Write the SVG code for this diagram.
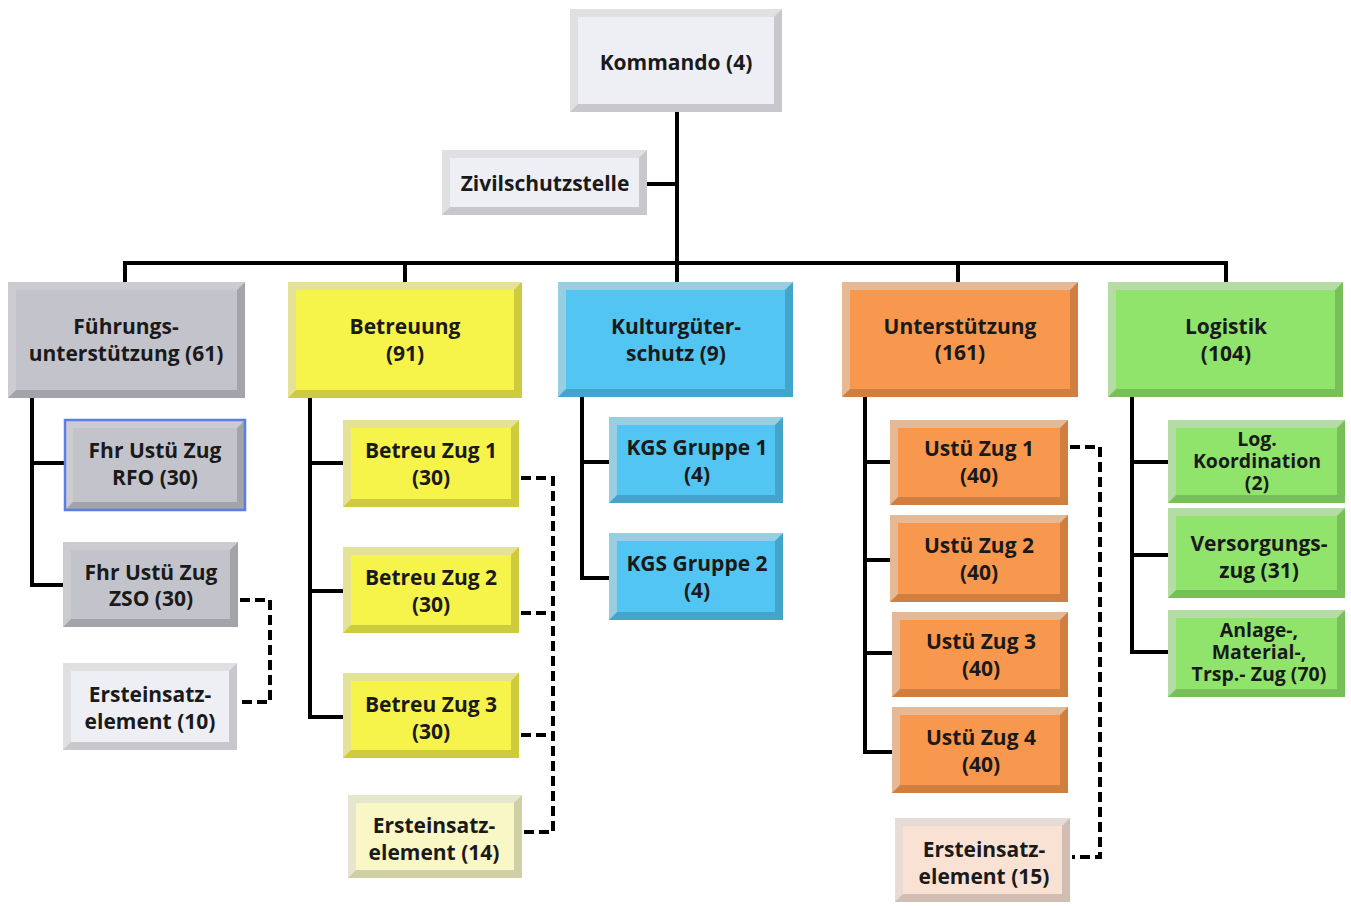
<svg xmlns="http://www.w3.org/2000/svg" width="1351" height="906" viewBox="0 0 1351 906">
<style>
text{font-family:"Open Sans","Liberation Sans",sans-serif;font-weight:bold;font-size:21px;fill:#1a1a1a;text-anchor:middle}
.sh{fill:#000;opacity:.16}
.hl{fill:#fff;opacity:.45}
.lav .f{fill:#eeeef5}
.gray .f{fill:#c3c3cb}
.yel .f{fill:#f6f34a}
.lyel .f{fill:#f9f7c6}
.cyan .f{fill:#52c5f2}
.ora .f{fill:#f8984e}
.peach .f{fill:#f9e2d4}
.grn .f{fill:#90e46c}
.blue-b{fill:none;stroke:#5a7ee6;stroke-width:2.5}
.solid{fill:none;stroke:#000;stroke-width:4}
.dash{fill:none;stroke:#000;stroke-width:4;stroke-dasharray:10 5}
.sm{font-size:19.5px}
</style>
<g id="connectors">
<path class="solid" d="M677,112 V282"/>
<path class="solid" d="M647,184 H677"/>
<path class="solid" d="M125,282 V263 H1226 V282"/>
<path class="solid" d="M405,263 V282"/>
<path class="solid" d="M958,263 V282"/>
<path class="solid" d="M32,398 V585 H63 M32,463 H65"/>
<path class="solid" d="M310,398 V717 H343 M310,463 H343 M310,591 H343"/>
<path class="solid" d="M582,397 V578 H609 M582,462 H609"/>
<path class="solid" d="M865,397 V752 H892 M865,462 H890 M865,560 H890 M865,653 H892"/>
<path class="solid" d="M1132,397 V652 H1168 M1132,462 H1168 M1132,555 H1168"/>
<path class="dash" d="M240,600 H270 V702 H239"/>
<path class="dash" d="M521,478 H553 V832 H524 M521,613 H553 M521,735 H553"/>
<path class="dash" d="M1070,447 H1100 V857 H1072"/>
</g>
<g id="n-kommando" class="lav">
<rect class="f" x="570" y="9" width="212" height="103"/><rect class="sh" x="570" y="9" width="212" height="103"/>
<path class="hl" d="M570,9 h212 l-8,8 h-196 v87 l-8,8 z"/><rect class="f" x="578" y="17" width="196" height="87"/>
<text x="676" y="70">Kommando (4)</text>
</g>
<g id="n-zivil" class="lav">
<rect class="f" x="442" y="150" width="205" height="65"/><rect class="sh" x="442" y="150" width="205" height="65"/>
<path class="hl" d="M442,150 h205 l-8,8 h-189 v49 l-8,8 z"/><rect class="f" x="450" y="158" width="189" height="49"/>
<text x="545" y="191">Zivilschutzstelle</text>
</g>
<g id="n-fuehrung" class="gray">
<rect class="f" x="8" y="282" width="237" height="116"/><rect class="sh" x="8" y="282" width="237" height="116"/>
<path class="hl" d="M8,282 h237 l-8,8 h-221 v100 l-8,8 z"/><rect class="f" x="16" y="290" width="221" height="100"/>
<text x="126" y="334">Führungs-</text><text x="126" y="361">unterstützung (61)</text>
</g>
<g id="n-betreuung" class="yel">
<rect class="f" x="288" y="282" width="234" height="116"/><rect class="sh" x="288" y="282" width="234" height="116"/>
<path class="hl" d="M288,282 h234 l-8,8 h-218 v100 l-8,8 z"/><rect class="f" x="296" y="290" width="218" height="100"/>
<text x="405" y="334">Betreuung</text><text x="405" y="361">(91)</text>
</g>
<g id="n-kgs" class="cyan">
<rect class="f" x="558" y="282" width="235" height="115"/><rect class="sh" x="558" y="282" width="235" height="115"/>
<path class="hl" d="M558,282 h235 l-8,8 h-219 v99 l-8,8 z"/><rect class="f" x="566" y="290" width="219" height="99"/>
<text x="676" y="334">Kulturgüter-</text><text x="676" y="361">schutz (9)</text>
</g>
<g id="n-unterstuetzung" class="ora">
<rect class="f" x="842" y="282" width="236" height="115"/><rect class="sh" x="842" y="282" width="236" height="115"/>
<path class="hl" d="M842,282 h236 l-8,8 h-220 v99 l-8,8 z"/><rect class="f" x="850" y="290" width="220" height="99"/>
<text x="960" y="334">Unterstützung</text><text x="960" y="360">(161)</text>
</g>
<g id="n-logistik" class="grn">
<rect class="f" x="1108" y="282" width="235" height="115"/><rect class="sh" x="1108" y="282" width="235" height="115"/>
<path class="hl" d="M1108,282 h235 l-8,8 h-219 v99 l-8,8 z"/><rect class="f" x="1116" y="290" width="219" height="99"/>
<text x="1226" y="334">Logistik</text><text x="1226" y="361">(104)</text>
</g>
<g id="n-rfo" class="gray">
<rect class="f" x="65" y="420" width="180" height="90"/><rect class="sh" x="65" y="420" width="180" height="90"/>
<path class="hl" d="M65,420 h180 l-8,8 h-164 v74 l-8,8 z"/><rect class="f" x="73" y="428" width="164" height="74"/>
<rect class="blue-b" x="65" y="420" width="180" height="90"/>
<text x="155" y="458">Fhr Ustü Zug</text><text x="155" y="485">RFO (30)</text>
</g>
<g id="n-zso" class="gray">
<rect class="f" x="63" y="542" width="175" height="85"/><rect class="sh" x="63" y="542" width="175" height="85"/>
<path class="hl" d="M63,542 h175 l-8,8 h-159 v69 l-8,8 z"/><rect class="f" x="71" y="550" width="159" height="69"/>
<text x="151" y="580">Fhr Ustü Zug</text><text x="151" y="606">ZSO (30)</text>
</g>
<g id="n-erst10" class="lav">
<rect class="f" x="63" y="663" width="174" height="87"/><rect class="sh" x="63" y="663" width="174" height="87"/>
<path class="hl" d="M63,663 h174 l-8,8 h-158 v71 l-8,8 z"/><rect class="f" x="71" y="671" width="158" height="71"/>
<text x="150" y="702">Ersteinsatz-</text><text x="150" y="729">element (10)</text>
</g>
<g id="n-betreu1" class="yel">
<rect class="f" x="343" y="420" width="176" height="87"/><rect class="sh" x="343" y="420" width="176" height="87"/>
<path class="hl" d="M343,420 h176 l-8,8 h-160 v71 l-8,8 z"/><rect class="f" x="351" y="428" width="160" height="71"/>
<text x="431" y="458">Betreu Zug 1</text><text x="431" y="485">(30)</text>
</g>
<g id="n-betreu2" class="yel">
<rect class="f" x="343" y="547" width="176" height="86"/><rect class="sh" x="343" y="547" width="176" height="86"/>
<path class="hl" d="M343,547 h176 l-8,8 h-160 v70 l-8,8 z"/><rect class="f" x="351" y="555" width="160" height="70"/>
<text x="431" y="585">Betreu Zug 2</text><text x="431" y="612">(30)</text>
</g>
<g id="n-betreu3" class="yel">
<rect class="f" x="343" y="673" width="176" height="85"/><rect class="sh" x="343" y="673" width="176" height="85"/>
<path class="hl" d="M343,673 h176 l-8,8 h-160 v69 l-8,8 z"/><rect class="f" x="351" y="681" width="160" height="69"/>
<text x="431" y="712">Betreu Zug 3</text><text x="431" y="739">(30)</text>
</g>
<g id="n-erst14" class="lyel">
<rect class="f" x="348" y="795" width="174" height="83"/><rect class="sh" x="348" y="795" width="174" height="83"/>
<path class="hl" d="M348,795 h174 l-8,8 h-158 v67 l-8,8 z"/><rect class="f" x="356" y="803" width="158" height="67"/>
<text x="434" y="833">Ersteinsatz-</text><text x="434" y="860">element (14)</text>
</g>
<g id="n-kgs1" class="cyan">
<rect class="f" x="609" y="417" width="174" height="86"/><rect class="sh" x="609" y="417" width="174" height="86"/>
<path class="hl" d="M609,417 h174 l-8,8 h-158 v70 l-8,8 z"/><rect class="f" x="617" y="425" width="158" height="70"/>
<text x="697" y="455">KGS Gruppe 1</text><text x="697" y="482">(4)</text>
</g>
<g id="n-kgs2" class="cyan">
<rect class="f" x="609" y="533" width="174" height="87"/><rect class="sh" x="609" y="533" width="174" height="87"/>
<path class="hl" d="M609,533 h174 l-8,8 h-158 v71 l-8,8 z"/><rect class="f" x="617" y="541" width="158" height="71"/>
<text x="697" y="571">KGS Gruppe 2</text><text x="697" y="598">(4)</text>
</g>
<g id="n-ustue1" class="ora">
<rect class="f" x="890" y="420" width="178" height="85"/><rect class="sh" x="890" y="420" width="178" height="85"/>
<path class="hl" d="M890,420 h178 l-8,8 h-162 v69 l-8,8 z"/><rect class="f" x="898" y="428" width="162" height="69"/>
<text x="979" y="456">Ustü Zug 1</text><text x="979" y="483">(40)</text>
</g>
<g id="n-ustue2" class="ora">
<rect class="f" x="890" y="515" width="178" height="87"/><rect class="sh" x="890" y="515" width="178" height="87"/>
<path class="hl" d="M890,515 h178 l-8,8 h-162 v71 l-8,8 z"/><rect class="f" x="898" y="523" width="162" height="71"/>
<text x="979" y="553">Ustü Zug 2</text><text x="979" y="580">(40)</text>
</g>
<g id="n-ustue3" class="ora">
<rect class="f" x="892" y="612" width="176" height="85"/><rect class="sh" x="892" y="612" width="176" height="85"/>
<path class="hl" d="M892,612 h176 l-8,8 h-160 v69 l-8,8 z"/><rect class="f" x="900" y="620" width="160" height="69"/>
<text x="981" y="649">Ustü Zug 3</text><text x="981" y="676">(40)</text>
</g>
<g id="n-ustue4" class="ora">
<rect class="f" x="892" y="707" width="176" height="86"/><rect class="sh" x="892" y="707" width="176" height="86"/>
<path class="hl" d="M892,707 h176 l-8,8 h-160 v70 l-8,8 z"/><rect class="f" x="900" y="715" width="160" height="70"/>
<text x="981" y="745">Ustü Zug 4</text><text x="981" y="772">(40)</text>
</g>
<g id="n-erst15" class="peach">
<rect class="f" x="895" y="818" width="175" height="84"/><rect class="sh" x="895" y="818" width="175" height="84"/>
<path class="hl" d="M895,818 h175 l-8,8 h-159 v68 l-8,8 z"/><rect class="f" x="903" y="826" width="159" height="68"/>
<text x="984" y="857">Ersteinsatz-</text><text x="984" y="884">element (15)</text>
</g>
<g id="n-logkoord" class="grn">
<rect class="f" x="1168" y="420" width="177" height="83"/><rect class="sh" x="1168" y="420" width="177" height="83"/>
<path class="hl" d="M1168,420 h177 l-8,8 h-161 v67 l-8,8 z"/><rect class="f" x="1176" y="428" width="161" height="67"/>
<text class="sm" x="1257" y="446">Log.</text><text class="sm" x="1257" y="468">Koordination</text><text class="sm" x="1257" y="490">(2)</text>
</g>
<g id="n-versorgung" class="grn">
<rect class="f" x="1168" y="508" width="177" height="90"/><rect class="sh" x="1168" y="508" width="177" height="90"/>
<path class="hl" d="M1168,508 h177 l-8,8 h-161 v74 l-8,8 z"/><rect class="f" x="1176" y="516" width="161" height="74"/>
<text x="1259" y="551">Versorgungs-</text><text x="1259" y="578">zug (31)</text>
</g>
<g id="n-anlage" class="grn">
<rect class="f" x="1168" y="610" width="177" height="87"/><rect class="sh" x="1168" y="610" width="177" height="87"/>
<path class="hl" d="M1168,610 h177 l-8,8 h-161 v71 l-8,8 z"/><rect class="f" x="1176" y="618" width="161" height="71"/>
<text class="sm" x="1259" y="637">Anlage-,</text><text class="sm" x="1259" y="659">Material-,</text><text class="sm" x="1259" y="681">Trsp.- Zug (70)</text>
</g>
</svg>
